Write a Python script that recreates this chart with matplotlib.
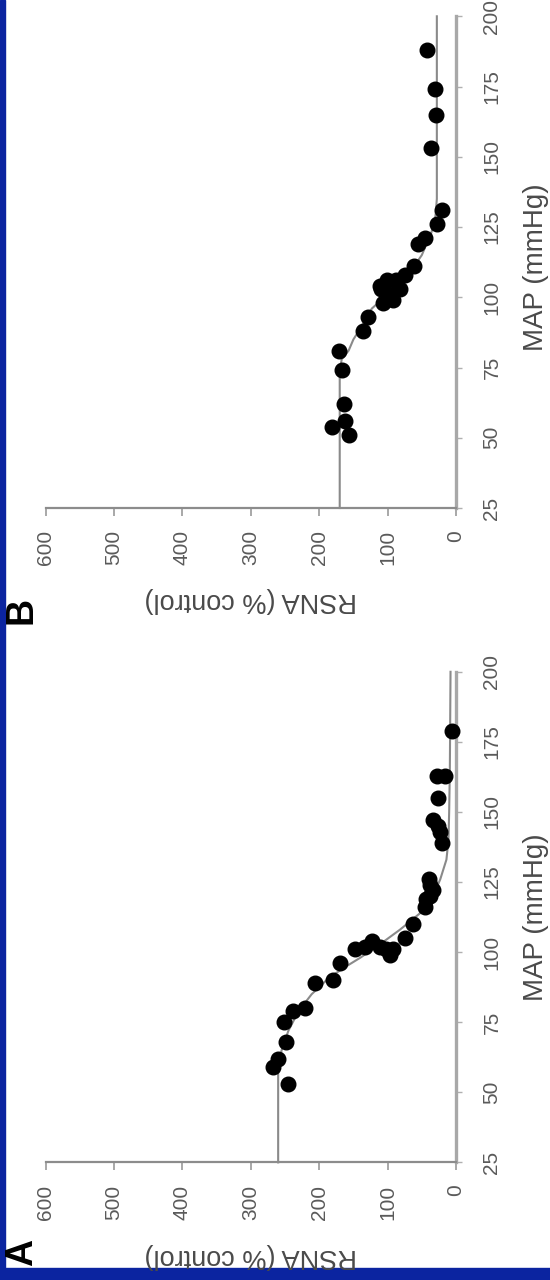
import matplotlib
matplotlib.use("Agg")
import matplotlib.pyplot as plt
from matplotlib.patches import Rectangle

plt.rcParams['font.family'] = ['Liberation Sans', 'DejaVu Sans']

# panel A data (RSNA % control, MAP mmHg)
a_rsna = [6, 28, 16, 27, 33, 23, 21, 26, 40, 33, 44, 45, 38, 38, 63, 75,
          148, 123, 133, 111, 97, 92, 102, 170, 180, 206, 221, 238, 252,
          249, 260, 267, 245]
a_map = [179, 163, 163, 155, 147, 143, 139, 145, 126, 122, 119, 116, 120, 124, 110, 105,
         101, 104, 102, 102, 99, 101, 101, 96, 90, 89, 80, 79, 75,
         68, 62, 59, 53]
a_fit_rsna = [260, 260, 255, 245, 230, 211, 185, 160, 140, 110, 82, 52, 35, 23, 14, 11, 10, 9, 8]
a_fit_map = [25, 58, 65, 72, 79, 85, 91, 95, 98, 103, 108, 114, 119, 126, 133, 140, 150, 165, 200]

# panel B data
b_rsna = [42, 31, 29, 37, 21, 28, 45, 55, 62, 75, 111, 101, 87, 82, 96, 106, 92, 109,
          128, 136, 171, 167, 164, 162, 181, 156]
b_map = [188, 174, 165, 153, 131, 126, 121, 119, 111, 108, 104, 106, 106, 103, 101, 98, 99, 103,
         93, 88, 81, 74, 62, 56, 54, 51]
b_fit_rsna = [170, 170, 167, 157, 150, 137, 123, 100, 80, 67, 50, 36, 30, 28, 28]
b_fit_map = [25, 74, 78, 81, 85, 90, 96, 101, 105, 109, 115, 123, 129, 135, 200]

rsna_ticks = [0, 100, 200, 300, 400, 500, 600]
map_ticks = [25, 50, 75, 100, 125, 150, 175, 200]

W, H = 550, 1280
fig = plt.figure(figsize=(W / 100, H / 100), dpi=100)
fig.patch.set_facecolor('white')

blue = '#0b24a0'
# slide border
fig.patches.append(Rectangle((0, 0), 5 / W, 1, transform=fig.transFigure, color=blue, zorder=0))
fig.patches.append(Rectangle((0, 0), 1, 12 / H, transform=fig.transFigure, color=blue, zorder=0))


def panel(top_px, bot_px, rsna, mp, fit_r, fit_m, letter, letter_y, xlab_y, ylab_y):
    ax = fig.add_axes([45.6 / W, 1 - bot_px / H, (456 - 45.6) / W, (bot_px - top_px) / H])
    ax.plot(fit_r, fit_m, color='#8a8a8a', lw=1.5, zorder=2, clip_on=False)
    ax.plot(rsna, mp, 'o', color='black', ms=10.5, zorder=3, clip_on=False)
    ax.set_xlim(600, 0)
    ax.set_ylim(25, 200)
    ax.spines['top'].set_visible(False)
    ax.spines['left'].set_visible(False)
    ax.spines['bottom'].set_color('#8c8c8c')
    ax.spines['bottom'].set_linewidth(1.6)
    ax.spines['right'].set_color('#a8a8a8')
    ax.spines['right'].set_linewidth(2.4)
    ax.yaxis.tick_right()
    ax.set_xticks(rsna_ticks)
    ax.set_yticks(map_ticks)
    ax.set_xticklabels([str(t) for t in rsna_ticks], rotation=90)
    ax.set_yticklabels([str(t) for t in map_ticks], rotation=90, va='center')
    ax.tick_params(axis='x', length=6, width=1.2, color='#9a9a9a', pad=10,
                   labelsize=15, labelcolor='#5a5a5a')
    ax.tick_params(axis='y', length=4, width=1, color='#b0b0b0', pad=15,
                   labelsize=15, labelcolor='#5a5a5a')
    ax.patch.set_alpha(0)
    # axis titles (figure is turned on its side)
    fig.text(251 / W, 1 - xlab_y / H, 'RSNA (% control)', rotation=180,
             ha='center', va='center', fontsize=19.5, color='#4a4a4a')
    fig.text(536 / W, 1 - ylab_y / H, 'MAP (mmHg)', rotation=90,
             ha='center', va='center', fontsize=20, color='#4a4a4a')
    fig.text(22 / W, 1 - letter_y / H, letter, rotation=90, ha='center', va='center',
             fontsize=27, fontweight='bold', color='black')
    return ax


panel(16.3, 508, b_rsna, b_map, b_fit_rsna, b_fit_map, 'B', 610, 600, 267)
panel(671.8, 1162.4, a_rsna, a_map, a_fit_rsna, a_fit_map, 'A', 1252, 1256, 917)

fig.savefig('out.png', dpi=100)
